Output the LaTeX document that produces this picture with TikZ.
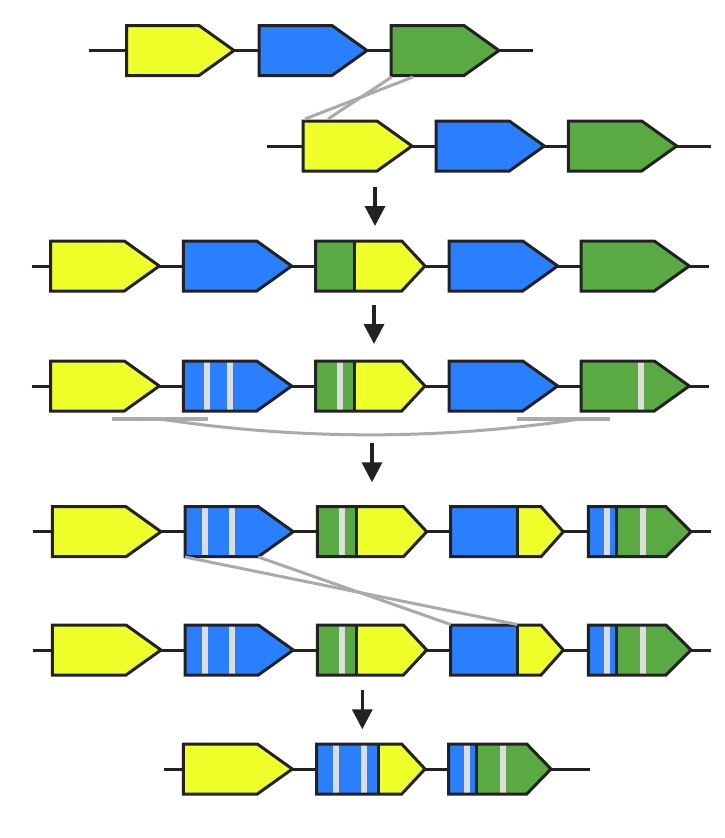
\documentclass[tikz,border=0pt]{standalone}
\usetikzlibrary{arrows.meta}
\definecolor{gy}{HTML}{EFFF29}
\definecolor{gb}{HTML}{2A7FFF}
\definecolor{gg}{HTML}{5AAA44}
\definecolor{ink}{HTML}{222222}
\definecolor{stripec}{HTML}{DDDDDD}
\definecolor{linkc}{HTML}{AAAAAA}
\tikzset{
 backbone/.style={draw=ink, line width=3pt},
 geneline/.style={draw=ink, line width=3pt, line join=miter},
 linkline/.style={draw=linkc, line width=3pt},
 linkbar/.style={draw=linkc, line width=4pt},
 steparrow/.style={draw=ink, line width=3.5pt, -{Triangle[width=20pt,length=20pt]}},
}
\newcommand{\gpath}[4]{(#1,#4-25) -- ({#2-#3},#4-25) -- (#2,#4) -- ({#2-#3},#4+25) -- (#1,#4+25) -- cycle}
\newcommand{\plaingene}[5]{\filldraw[geneline, fill=#5] \gpath{#1}{#2}{#3}{#4};}
\newcommand{\hybridfill}[7]{%
 \fill[#7] \gpath{#1}{#3}{#4}{#5};
 \fill[#6] (#1,#5-25) rectangle (#2,#5+25);}
\newcommand{\stripeat}[2]{\fill[stripec] (#1-3,#2-25) rectangle (#1+3,#2+25);}
\newcommand{\outlinegene}[4]{\draw[geneline] \gpath{#1}{#2}{#3}{#4};}
\newcommand{\dividerat}[2]{\draw[geneline] (#1,#2-25) -- (#1,#2+25);}
\begin{document}
\begin{tikzpicture}[x=1pt,y=-1pt]
\useasboundingbox (0,0) rectangle (725,838);
% ---------- backbones ----------
\coordinate (r1s) at (89,50.5);   \coordinate (r1e) at (533,50.5);
\coordinate (r2s) at (267,146);   \coordinate (r2e) at (711,146);
\coordinate (r3s) at (31.7,266);  \coordinate (r3e) at (709,266);
\coordinate (r4s) at (31.7,386);  \coordinate (r4e) at (709,386);
\coordinate (r5s) at (33.3,531.7);\coordinate (r5e) at (711,531.7);
\coordinate (r6s) at (33.3,650);  \coordinate (r6e) at (711,650);
\coordinate (r7s) at (164,769);   \coordinate (r7e) at (590,769);
\foreach \r in {1,...,7} {\draw[backbone] (r\r s) -- (r\r e);}
% ---------- row 1 ----------
\plaingene{126.7}{234}{35}{50.5}{gy}
\plaingene{259}{367}{35}{50.5}{gb}
\plaingene{391}{499}{35}{50.5}{gg}
% ---------- row 2 ----------
\plaingene{303}{412}{35}{146}{gy}
\plaingene{436}{544.3}{35}{146}{gb}
\plaingene{568.3}{676.7}{35}{146}{gg}
% links row1 -> row2
\coordinate (l1a) at (391.7,77); \coordinate (l1b) at (328,119);
\coordinate (l1c) at (413,77);   \coordinate (l1d) at (305,119);
\draw[linkline] (l1a) -- (l1b);
\draw[linkline] (l1c) -- (l1d);
% ---------- row 3 ----------
\plaingene{50.7}{159.3}{35}{266}{gy}
\plaingene{183.3}{291.7}{35}{266}{gb}
\hybridfill{315.5}{354.3}{425}{23.3}{266}{gg}{gy}
\outlinegene{315.5}{425}{23.3}{266}
\dividerat{354.3}{266}
\plaingene{449}{557.7}{35}{266}{gb}
\plaingene{581}{689.3}{35}{266}{gg}
% ---------- row 4 ----------
\plaingene{50.7}{159.3}{35}{386}{gy}
\hybridfill{183.3}{183.3}{291.7}{35}{386}{gb}{gb}
\stripeat{207}{386}\stripeat{230.3}{386}
\outlinegene{183.3}{291.7}{35}{386}
\hybridfill{315.5}{354.3}{425}{23.3}{386}{gg}{gy}
\stripeat{340.3}{386}
\outlinegene{315.5}{425}{23.3}{386}
\dividerat{354.3}{386}
\plaingene{449}{557.7}{35}{386}{gb}
\hybridfill{581}{581}{689.3}{35}{386}{gg}{gg}
\stripeat{641.3}{386}
\outlinegene{581}{689.3}{35}{386}
% bars and curve
\coordinate (b1s) at (112.3,419.3); \coordinate (b1e) at (207.7,419.3);
\coordinate (b2s) at (516.7,419.3); \coordinate (b2e) at (610,419.3);
\coordinate (c1) at (162,419.3); \coordinate (c2) at (578,419.3);
\draw[linkbar] (b1s) -- (b1e);
\draw[linkbar] (b2s) -- (b2e);
\draw[linkline] (c1) .. controls (300,440) and (440,440) .. (c2);
% ---------- rows 5 and 6 ----------
\foreach \cy in {531.7,650} {
 \plaingene{52.3}{161}{35}{\cy}{gy}
 \hybridfill{185}{185}{293.3}{35}{\cy}{gb}{gb}
 \stripeat{205}{\cy}\stripeat{232}{\cy}
 \outlinegene{185}{293.3}{35}{\cy}
 \hybridfill{317.3}{356.7}{426.7}{23.3}{\cy}{gg}{gy}
 \stripeat{342}{\cy}
 \outlinegene{317.3}{426.7}{23.3}{\cy}
 \dividerat{356.7}{\cy}
 \hybridfill{450.7}{517.3}{563.3}{22.3}{\cy}{gb}{gy}
 \outlinegene{450.7}{563.3}{22.3}{\cy}
 \dividerat{517.3}{\cy}
 \hybridfill{588.3}{616}{691}{25}{\cy}{gb}{gg}
 \stripeat{607.3}{\cy}\stripeat{643}{\cy}
 \outlinegene{588.3}{691}{25}{\cy}
 \dividerat{616}{\cy}
}
% links row5 -> row6
\coordinate (l2a) at (185,557);   \coordinate (l2b) at (517.3,624.5);
\coordinate (l2c) at (258.3,557); \coordinate (l2d) at (450.7,624.5);
\draw[linkline] (l2a) -- (l2b);
\draw[linkline] (l2c) -- (l2d);
% ---------- row 7 ----------
\plaingene{183.3}{292.3}{35}{769}{gy}
\hybridfill{316.7}{378.3}{425}{23.3}{769}{gb}{gy}
\stripeat{336.3}{769}\stripeat{363.7}{769}
\outlinegene{316.7}{425}{23.3}{769}
\dividerat{378.3}{769}
\hybridfill{448.7}{476}{551}{24.3}{769}{gb}{gg}
\stripeat{467.3}{769}\stripeat{503}{769}
\outlinegene{448.7}{551}{24.3}{769}
\dividerat{476}{769}
% ---------- step arrows ----------
\coordinate (a1s) at (375,187);   \coordinate (a1e) at (375,226);
\coordinate (a2s) at (374,305);   \coordinate (a2e) at (374,344);
\coordinate (a3s) at (372,443);   \coordinate (a3e) at (372,482.3);
\coordinate (a4s) at (362.3,690); \coordinate (a4e) at (362.3,729.3);
\foreach \k in {1,...,4} {\draw[steparrow] (a\k s) -- (a\k e);}
\end{tikzpicture}
\end{document}
